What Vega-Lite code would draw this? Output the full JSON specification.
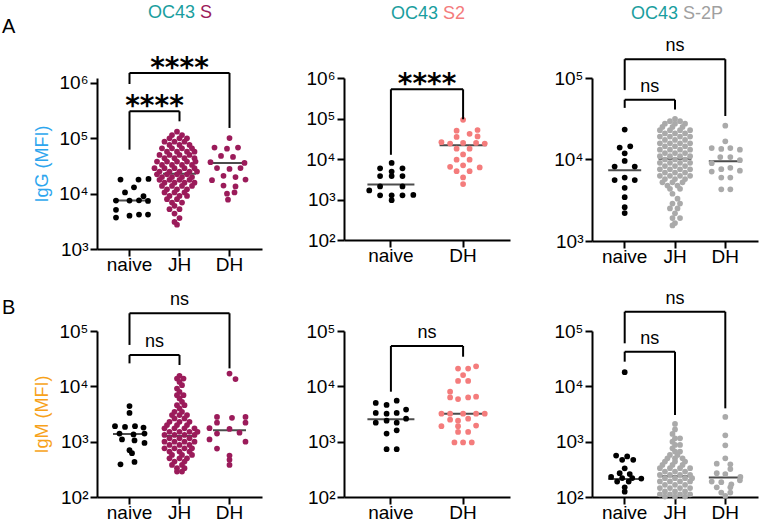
{
"$schema":"https://vega.github.io/schema/vega-lite/v6.json",
"autosize":"none",
"padding":{"left":97,"top":78,"right":662,"bottom":444},
"config":{"view":{"stroke":null},"font":"Liberation Sans",
"circle":{"size":33,"opacity":1},
"axis":{"domainColor":"#000","domainWidth":2,"tickColor":"#000","tickWidth":2,"tickSize":7,"labelColor":"#000","labelFont":"Liberation Sans","labelFontSize":19,"grid":false,"titleFont":"Liberation Sans","titleFontSize":18,"titleFontWeight":"normal"},
"axisX":{"labelBaseline":"alphabetic","labelPadding":14,"labelAngle":0},
"axisY":{"labelPadding":2,"titlePadding":7}},
"resolve":{"scale":{"color":"independent","xOffset":"independent"}},
"datasets":{
"pts":[
{"p":1,"g":"naive","v":18000,"o":-0.18},{"p":1,"g":"naive","v":18000,"o":0.18},{"p":1,"g":"naive","v":18500,"o":0.38},{"p":1,"g":"naive","v":13000,"o":0.09},{"p":1,"g":"naive","v":10500,"o":-0.09},{"p":1,"g":"naive","v":9000,"o":0.28},{"p":1,"g":"naive","v":7500,"o":-0.27},{"p":1,"g":"naive","v":7500,"o":0.0},{"p":1,"g":"naive","v":7600,"o":0.19},{"p":1,"g":"naive","v":7400,"o":0.37},{"p":1,"g":"naive","v":5100,"o":-0.27},{"p":1,"g":"naive","v":4200,"o":0.19},{"p":1,"g":"naive","v":4200,"o":0.37},{"p":1,"g":"naive","v":3700,"o":-0.27},{"p":1,"g":"naive","v":4000,"o":0.0},
{"p":1,"g":"JH","v":131800,"o":-0.05},
{"p":1,"g":"JH","v":114800,"o":-0.15},{"p":1,"g":"JH","v":114800,"o":0.05},
{"p":1,"g":"JH","v":100000,"o":-0.2},{"p":1,"g":"JH","v":100000,"o":0.0},{"p":1,"g":"JH","v":100000,"o":0.15},
{"p":1,"g":"JH","v":87100,"o":-0.3},{"p":1,"g":"JH","v":87100,"o":-0.1},{"p":1,"g":"JH","v":87100,"o":0.1},
{"p":1,"g":"JH","v":75900,"o":-0.2},{"p":1,"g":"JH","v":75900,"o":0.0},{"p":1,"g":"JH","v":75900,"o":0.2},
{"p":1,"g":"JH","v":66100,"o":-0.35},{"p":1,"g":"JH","v":66100,"o":-0.15},{"p":1,"g":"JH","v":66100,"o":0.05},{"p":1,"g":"JH","v":66100,"o":0.25},
{"p":1,"g":"JH","v":57500,"o":-0.25},{"p":1,"g":"JH","v":57500,"o":-0.05},{"p":1,"g":"JH","v":57500,"o":0.15},{"p":1,"g":"JH","v":57500,"o":0.3},
{"p":1,"g":"JH","v":50100,"o":-0.4},{"p":1,"g":"JH","v":50100,"o":-0.2},{"p":1,"g":"JH","v":50100,"o":0.0},{"p":1,"g":"JH","v":50100,"o":0.2},
{"p":1,"g":"JH","v":43700,"o":-0.3},{"p":1,"g":"JH","v":43700,"o":-0.1},{"p":1,"g":"JH","v":43700,"o":0.1},{"p":1,"g":"JH","v":43700,"o":0.3},
{"p":1,"g":"JH","v":38000,"o":-0.45},{"p":1,"g":"JH","v":38000,"o":-0.25},{"p":1,"g":"JH","v":38000,"o":-0.05},{"p":1,"g":"JH","v":38000,"o":0.15},{"p":1,"g":"JH","v":38000,"o":0.32},
{"p":1,"g":"JH","v":33100,"o":-0.35},{"p":1,"g":"JH","v":33100,"o":-0.15},{"p":1,"g":"JH","v":33100,"o":0.05},{"p":1,"g":"JH","v":33100,"o":0.25},
{"p":1,"g":"JH","v":28800,"o":-0.5},{"p":1,"g":"JH","v":28800,"o":-0.3},{"p":1,"g":"JH","v":28800,"o":-0.1},{"p":1,"g":"JH","v":28800,"o":0.1},{"p":1,"g":"JH","v":28800,"o":0.3},
{"p":1,"g":"JH","v":25100,"o":-0.4},{"p":1,"g":"JH","v":25100,"o":-0.2},{"p":1,"g":"JH","v":25100,"o":0.0},{"p":1,"g":"JH","v":25100,"o":0.2},{"p":1,"g":"JH","v":25100,"o":0.35},
{"p":1,"g":"JH","v":22400,"o":-0.45},{"p":1,"g":"JH","v":22400,"o":-0.25},{"p":1,"g":"JH","v":22400,"o":-0.05},{"p":1,"g":"JH","v":22400,"o":0.15},
{"p":1,"g":"JH","v":20000,"o":-0.35},{"p":1,"g":"JH","v":20000,"o":-0.15},{"p":1,"g":"JH","v":20000,"o":0.05},{"p":1,"g":"JH","v":20000,"o":0.25},
{"p":1,"g":"JH","v":17800,"o":-0.4},{"p":1,"g":"JH","v":17800,"o":-0.2},{"p":1,"g":"JH","v":17800,"o":0.0},{"p":1,"g":"JH","v":17800,"o":0.2},
{"p":1,"g":"JH","v":15800,"o":-0.3},{"p":1,"g":"JH","v":15800,"o":-0.1},{"p":1,"g":"JH","v":15800,"o":0.1},{"p":1,"g":"JH","v":15800,"o":0.3},
{"p":1,"g":"JH","v":13800,"o":-0.35},{"p":1,"g":"JH","v":13800,"o":-0.15},{"p":1,"g":"JH","v":13800,"o":0.05},{"p":1,"g":"JH","v":13800,"o":0.25},
{"p":1,"g":"JH","v":12000,"o":-0.25},{"p":1,"g":"JH","v":12000,"o":-0.05},{"p":1,"g":"JH","v":12000,"o":0.15},
{"p":1,"g":"JH","v":10500,"o":-0.3},{"p":1,"g":"JH","v":10500,"o":-0.1},{"p":1,"g":"JH","v":10500,"o":0.1},
{"p":1,"g":"JH","v":9120,"o":-0.2},{"p":1,"g":"JH","v":9120,"o":0.0},{"p":1,"g":"JH","v":9120,"o":0.15},
{"p":1,"g":"JH","v":7940,"o":-0.25},{"p":1,"g":"JH","v":7940,"o":-0.05},
{"p":1,"g":"JH","v":6920,"o":-0.15},{"p":1,"g":"JH","v":6920,"o":0.05},
{"p":1,"g":"JH","v":6030,"o":-0.1},
{"p":1,"g":"JH","v":5250,"o":-0.2},{"p":1,"g":"JH","v":5250,"o":0.0},
{"p":1,"g":"JH","v":4370,"o":-0.1},
{"p":1,"g":"JH","v":3630,"o":0.0},
{"p":1,"g":"JH","v":3090,"o":-0.1},
{"p":1,"g":"JH","v":2750,"o":-0.05},
{"p":1,"g":"DH","v":101000,"o":0},{"p":1,"g":"DH","v":68000,"o":-0.3},{"p":1,"g":"DH","v":65000,"o":-0.05},{"p":1,"g":"DH","v":68000,"o":0.17},{"p":1,"g":"DH","v":48000,"o":-0.17},{"p":1,"g":"DH","v":46000,"o":0.07},{"p":1,"g":"DH","v":37000,"o":-0.38},{"p":1,"g":"DH","v":36000,"o":0.3},{"p":1,"g":"DH","v":29000,"o":-0.25},{"p":1,"g":"DH","v":28000,"o":0.0},{"p":1,"g":"DH","v":29000,"o":0.22},{"p":1,"g":"DH","v":21000,"o":-0.12},{"p":1,"g":"DH","v":20000,"o":0.12},{"p":1,"g":"DH","v":17500,"o":-0.35},{"p":1,"g":"DH","v":18000,"o":0.32},{"p":1,"g":"DH","v":14000,"o":-0.12},{"p":1,"g":"DH","v":13500,"o":0.12},{"p":1,"g":"DH","v":10000,"o":-0.05},{"p":1,"g":"DH","v":10500,"o":0.1},{"p":1,"g":"DH","v":7800,"o":-0.03},
{"p":2,"g":"naive","v":8000,"o":0.01},{"p":2,"g":"naive","v":5900,"o":-0.15},{"p":2,"g":"naive","v":5900,"o":0.16},{"p":2,"g":"naive","v":4900,"o":0.01},{"p":2,"g":"naive","v":3800,"o":-0.15},{"p":2,"g":"naive","v":3800,"o":0.01},{"p":2,"g":"naive","v":3800,"o":0.16},{"p":2,"g":"naive","v":2100,"o":-0.15},{"p":2,"g":"naive","v":2100,"o":0.16},{"p":2,"g":"naive","v":1670,"o":-0.3},{"p":2,"g":"naive","v":1300,"o":0.31},{"p":2,"g":"naive","v":1270,"o":-0.15},{"p":2,"g":"naive","v":1270,"o":0.01},{"p":2,"g":"naive","v":1270,"o":0.16},{"p":2,"g":"naive","v":960,"o":0.01},
{"p":2,"g":"DH","v":93000,"o":0},{"p":2,"g":"DH","v":50000,"o":-0.09},{"p":2,"g":"DH","v":52000,"o":0.2},{"p":2,"g":"DH","v":42000,"o":0.09},{"p":2,"g":"DH","v":35000,"o":-0.09},{"p":2,"g":"DH","v":36000,"o":0.2},{"p":2,"g":"DH","v":26000,"o":-0.3},{"p":2,"g":"DH","v":24000,"o":-0.18},{"p":2,"g":"DH","v":25000,"o":0.0},{"p":2,"g":"DH","v":25000,"o":0.18},{"p":2,"g":"DH","v":24000,"o":0.3},{"p":2,"g":"DH","v":18000,"o":-0.09},{"p":2,"g":"DH","v":18000,"o":0.09},{"p":2,"g":"DH","v":13000,"o":0},{"p":2,"g":"DH","v":9600,"o":-0.09},{"p":2,"g":"DH","v":9600,"o":0.09},{"p":2,"g":"DH","v":7000,"o":0.0},{"p":2,"g":"DH","v":6400,"o":-0.18},{"p":2,"g":"DH","v":6200,"o":0.23},{"p":2,"g":"DH","v":5000,"o":-0.09},{"p":2,"g":"DH","v":5000,"o":0.09},{"p":2,"g":"DH","v":3500,"o":0.0},{"p":2,"g":"DH","v":2400,"o":0},
{"p":3,"g":"naive","v":23300,"o":0},{"p":3,"g":"naive","v":14000,"o":-0.1},{"p":3,"g":"naive","v":14500,"o":0.11},{"p":3,"g":"naive","v":11900,"o":0.0},{"p":3,"g":"naive","v":9600,"o":0.0},{"p":3,"g":"naive","v":8200,"o":-0.2},{"p":3,"g":"naive","v":8200,"o":0.2},{"p":3,"g":"naive","v":5600,"o":-0.2},{"p":3,"g":"naive","v":6000,"o":0.0},{"p":3,"g":"naive","v":5600,"o":0.2},{"p":3,"g":"naive","v":4500,"o":0.0},{"p":3,"g":"naive","v":3450,"o":0.0},{"p":3,"g":"naive","v":2600,"o":0.0},{"p":3,"g":"naive","v":2200,"o":0.0},
{"p":3,"g":"JH","v":31600,"o":0.0},
{"p":3,"g":"JH","v":29500,"o":-0.1},{"p":3,"g":"JH","v":29500,"o":0.1},
{"p":3,"g":"JH","v":27500,"o":-0.2},{"p":3,"g":"JH","v":27500,"o":0.0},{"p":3,"g":"JH","v":27500,"o":0.2},
{"p":3,"g":"JH","v":25100,"o":-0.25},{"p":3,"g":"JH","v":25100,"o":-0.05},{"p":3,"g":"JH","v":25100,"o":0.15},
{"p":3,"g":"JH","v":22900,"o":-0.3},{"p":3,"g":"JH","v":22900,"o":-0.1},{"p":3,"g":"JH","v":22900,"o":0.1},{"p":3,"g":"JH","v":22900,"o":0.3},
{"p":3,"g":"JH","v":20900,"o":-0.2},{"p":3,"g":"JH","v":20900,"o":0.0},{"p":3,"g":"JH","v":20900,"o":0.2},
{"p":3,"g":"JH","v":19100,"o":-0.3},{"p":3,"g":"JH","v":19100,"o":-0.1},{"p":3,"g":"JH","v":19100,"o":0.1},{"p":3,"g":"JH","v":19100,"o":0.3},
{"p":3,"g":"JH","v":17400,"o":-0.2},{"p":3,"g":"JH","v":17400,"o":0.0},{"p":3,"g":"JH","v":17400,"o":0.2},
{"p":3,"g":"JH","v":15800,"o":-0.3},{"p":3,"g":"JH","v":15800,"o":-0.1},{"p":3,"g":"JH","v":15800,"o":0.1},{"p":3,"g":"JH","v":15800,"o":0.3},
{"p":3,"g":"JH","v":14500,"o":-0.2},{"p":3,"g":"JH","v":14500,"o":0.0},{"p":3,"g":"JH","v":14500,"o":0.2},
{"p":3,"g":"JH","v":13200,"o":-0.3},{"p":3,"g":"JH","v":13200,"o":-0.1},{"p":3,"g":"JH","v":13200,"o":0.1},{"p":3,"g":"JH","v":13200,"o":0.3},
{"p":3,"g":"JH","v":12000,"o":-0.2},{"p":3,"g":"JH","v":12000,"o":0.0},{"p":3,"g":"JH","v":12000,"o":0.2},
{"p":3,"g":"JH","v":11000,"o":-0.3},{"p":3,"g":"JH","v":11000,"o":-0.1},{"p":3,"g":"JH","v":11000,"o":0.1},{"p":3,"g":"JH","v":11000,"o":0.3},
{"p":3,"g":"JH","v":10000,"o":-0.2},{"p":3,"g":"JH","v":10000,"o":0.0},{"p":3,"g":"JH","v":10000,"o":0.2},
{"p":3,"g":"JH","v":9120,"o":-0.3},{"p":3,"g":"JH","v":9120,"o":-0.1},{"p":3,"g":"JH","v":9120,"o":0.1},{"p":3,"g":"JH","v":9120,"o":0.3},
{"p":3,"g":"JH","v":8320,"o":-0.2},{"p":3,"g":"JH","v":8320,"o":0.0},{"p":3,"g":"JH","v":8320,"o":0.2},
{"p":3,"g":"JH","v":7590,"o":-0.3},{"p":3,"g":"JH","v":7590,"o":-0.1},{"p":3,"g":"JH","v":7590,"o":0.1},{"p":3,"g":"JH","v":7590,"o":0.3},
{"p":3,"g":"JH","v":6920,"o":-0.2},{"p":3,"g":"JH","v":6920,"o":0.0},{"p":3,"g":"JH","v":6920,"o":0.2},
{"p":3,"g":"JH","v":6310,"o":-0.3},{"p":3,"g":"JH","v":6310,"o":-0.1},{"p":3,"g":"JH","v":6310,"o":0.1},{"p":3,"g":"JH","v":6310,"o":0.3},
{"p":3,"g":"JH","v":5750,"o":-0.2},{"p":3,"g":"JH","v":5750,"o":0.0},{"p":3,"g":"JH","v":5750,"o":0.2},
{"p":3,"g":"JH","v":5250,"o":-0.25},{"p":3,"g":"JH","v":5250,"o":-0.05},{"p":3,"g":"JH","v":5250,"o":0.15},
{"p":3,"g":"JH","v":4790,"o":-0.15},{"p":3,"g":"JH","v":4790,"o":0.05},
{"p":3,"g":"JH","v":4370,"o":-0.1},{"p":3,"g":"JH","v":4370,"o":0.1},
{"p":3,"g":"JH","v":3800,"o":-0.05},
{"p":3,"g":"JH","v":3310,"o":0.05},
{"p":3,"g":"JH","v":2880,"o":-0.05},{"p":3,"g":"JH","v":2880,"o":0.1},
{"p":3,"g":"JH","v":2510,"o":-0.1},{"p":3,"g":"JH","v":2510,"o":0.05},
{"p":3,"g":"JH","v":2190,"o":0.0},
{"p":3,"g":"JH","v":1910,"o":-0.05},{"p":3,"g":"JH","v":1910,"o":0.1},
{"p":3,"g":"JH","v":1660,"o":0.0},
{"p":3,"g":"JH","v":1550,"o":-0.05},
{"p":3,"g":"DH","v":26000,"o":0},{"p":3,"g":"DH","v":16700,"o":0},{"p":3,"g":"DH","v":13800,"o":-0.27},{"p":3,"g":"DH","v":13500,"o":-0.08},{"p":3,"g":"DH","v":13800,"o":0.1},{"p":3,"g":"DH","v":13200,"o":0.29},{"p":3,"g":"DH","v":10700,"o":-0.1},{"p":3,"g":"DH","v":10700,"o":0.1},{"p":3,"g":"DH","v":9800,"o":0.29},{"p":3,"g":"DH","v":9000,"o":-0.27},{"p":3,"g":"DH","v":7100,"o":-0.27},{"p":3,"g":"DH","v":7600,"o":-0.08},{"p":3,"g":"DH","v":7900,"o":0.1},{"p":3,"g":"DH","v":7300,"o":0.29},{"p":3,"g":"DH","v":6000,"o":-0.08},{"p":3,"g":"DH","v":6000,"o":0.1},{"p":3,"g":"DH","v":4300,"o":-0.08},{"p":3,"g":"DH","v":4300,"o":0.1},
{"p":4,"g":"naive","v":4400,"o":0},{"p":4,"g":"naive","v":3300,"o":0},{"p":4,"g":"naive","v":1900,"o":-0.29},{"p":4,"g":"naive","v":1850,"o":-0.09},{"p":4,"g":"naive","v":1900,"o":0.11},{"p":4,"g":"naive","v":1800,"o":0.28},{"p":4,"g":"naive","v":1400,"o":-0.2},{"p":4,"g":"naive","v":1350,"o":0.08},{"p":4,"g":"naive","v":1400,"o":0.3},{"p":4,"g":"naive","v":1100,"o":-0.15},{"p":4,"g":"naive","v":1050,"o":0.1},{"p":4,"g":"naive","v":950,"o":0.3},{"p":4,"g":"naive","v":700,"o":0.0},{"p":4,"g":"naive","v":620,"o":0.05},{"p":4,"g":"naive","v":430,"o":0.1},{"p":4,"g":"naive","v":390,"o":-0.18},
{"p":4,"g":"JH","v":15500,"o":0.0},
{"p":4,"g":"JH","v":13800,"o":-0.05},{"p":4,"g":"JH","v":13800,"o":0.08},
{"p":4,"g":"JH","v":12000,"o":0.0},
{"p":4,"g":"JH","v":10500,"o":0.05},
{"p":4,"g":"JH","v":9120,"o":-0.05},
{"p":4,"g":"JH","v":7940,"o":0.0},
{"p":4,"g":"JH","v":6920,"o":-0.05},{"p":4,"g":"JH","v":6920,"o":0.08},
{"p":4,"g":"JH","v":6030,"o":0.0},
{"p":4,"g":"JH","v":5250,"o":0.05},
{"p":4,"g":"JH","v":4570,"o":-0.05},{"p":4,"g":"JH","v":4570,"o":0.1},
{"p":4,"g":"JH","v":3980,"o":0.0},
{"p":4,"g":"JH","v":3470,"o":-0.1},{"p":4,"g":"JH","v":3470,"o":0.05},
{"p":4,"g":"JH","v":3020,"o":-0.15},{"p":4,"g":"JH","v":3020,"o":0.0},{"p":4,"g":"JH","v":3020,"o":0.15},
{"p":4,"g":"JH","v":2630,"o":-0.1},{"p":4,"g":"JH","v":2630,"o":0.1},
{"p":4,"g":"JH","v":2290,"o":-0.2},{"p":4,"g":"JH","v":2290,"o":0.0},{"p":4,"g":"JH","v":2290,"o":0.2},
{"p":4,"g":"JH","v":2000,"o":-0.25},{"p":4,"g":"JH","v":2000,"o":-0.05},{"p":4,"g":"JH","v":2000,"o":0.15},
{"p":4,"g":"JH","v":1740,"o":-0.3},{"p":4,"g":"JH","v":1740,"o":-0.1},{"p":4,"g":"JH","v":1740,"o":0.1},{"p":4,"g":"JH","v":1740,"o":0.3},
{"p":4,"g":"JH","v":1510,"o":-0.2},{"p":4,"g":"JH","v":1510,"o":0.0},{"p":4,"g":"JH","v":1510,"o":0.2},{"p":4,"g":"JH","v":1510,"o":0.36},
{"p":4,"g":"JH","v":1320,"o":-0.3},{"p":4,"g":"JH","v":1320,"o":-0.1},{"p":4,"g":"JH","v":1320,"o":0.1},{"p":4,"g":"JH","v":1320,"o":0.3},
{"p":4,"g":"JH","v":1150,"o":-0.2},{"p":4,"g":"JH","v":1150,"o":0.0},{"p":4,"g":"JH","v":1150,"o":0.2},
{"p":4,"g":"JH","v":1000,"o":-0.3},{"p":4,"g":"JH","v":1000,"o":-0.1},{"p":4,"g":"JH","v":1000,"o":0.1},{"p":4,"g":"JH","v":1000,"o":0.3},
{"p":4,"g":"JH","v":871,"o":-0.2},{"p":4,"g":"JH","v":871,"o":0.0},{"p":4,"g":"JH","v":871,"o":0.2},
{"p":4,"g":"JH","v":759,"o":-0.3},{"p":4,"g":"JH","v":759,"o":-0.1},{"p":4,"g":"JH","v":759,"o":0.1},{"p":4,"g":"JH","v":759,"o":0.25},
{"p":4,"g":"JH","v":661,"o":-0.2},{"p":4,"g":"JH","v":661,"o":0.0},{"p":4,"g":"JH","v":661,"o":0.2},
{"p":4,"g":"JH","v":575,"o":-0.15},{"p":4,"g":"JH","v":575,"o":0.05},{"p":4,"g":"JH","v":575,"o":0.25},
{"p":4,"g":"JH","v":501,"o":-0.2},{"p":4,"g":"JH","v":501,"o":0.0},{"p":4,"g":"JH","v":501,"o":0.15},
{"p":4,"g":"JH","v":437,"o":-0.1},{"p":4,"g":"JH","v":437,"o":0.1},
{"p":4,"g":"JH","v":380,"o":-0.15},{"p":4,"g":"JH","v":380,"o":0.05},
{"p":4,"g":"JH","v":331,"o":-0.05},{"p":4,"g":"JH","v":331,"o":0.1},
{"p":4,"g":"JH","v":288,"o":-0.05},{"p":4,"g":"JH","v":288,"o":0.05},
{"p":4,"g":"DH","v":17000,"o":0},{"p":4,"g":"DH","v":13500,"o":0.12},{"p":4,"g":"DH","v":2800,"o":-0.25},{"p":4,"g":"DH","v":2700,"o":0.05},{"p":4,"g":"DH","v":2800,"o":0.32},{"p":4,"g":"DH","v":2200,"o":-0.25},{"p":4,"g":"DH","v":2200,"o":0.32},{"p":4,"g":"DH","v":1750,"o":-0.4},{"p":4,"g":"DH","v":1700,"o":0.0},{"p":4,"g":"DH","v":1400,"o":-0.25},{"p":4,"g":"DH","v":1450,"o":0.2},{"p":4,"g":"DH","v":1100,"o":-0.4},{"p":4,"g":"DH","v":1000,"o":0.32},{"p":4,"g":"DH","v":750,"o":-0.25},{"p":4,"g":"DH","v":560,"o":0.0},{"p":4,"g":"DH","v":470,"o":0.0},{"p":4,"g":"DH","v":380,"o":0.0},
{"p":5,"g":"naive","v":5000,"o":-0.21},{"p":5,"g":"naive","v":4600,"o":-0.06},{"p":5,"g":"naive","v":5500,"o":0.08},{"p":5,"g":"naive","v":3300,"o":-0.21},{"p":5,"g":"naive","v":3200,"o":-0.06},{"p":5,"g":"naive","v":3300,"o":0.08},{"p":5,"g":"naive","v":3800,"o":0.21},{"p":5,"g":"naive","v":2200,"o":-0.21},{"p":5,"g":"naive","v":2400,"o":-0.06},{"p":5,"g":"naive","v":2200,"o":0.08},{"p":5,"g":"naive","v":2600,"o":0.21},{"p":5,"g":"naive","v":1400,"o":-0.06},{"p":5,"g":"naive","v":1600,"o":0.08},{"p":5,"g":"naive","v":730,"o":-0.06},{"p":5,"g":"naive","v":730,"o":0.08},
{"p":5,"g":"DH","v":21000,"o":-0.07},{"p":5,"g":"DH","v":21000,"o":0.07},{"p":5,"g":"DH","v":23000,"o":0.18},{"p":5,"g":"DH","v":16000,"o":0.0},{"p":5,"g":"DH","v":12500,"o":-0.07},{"p":5,"g":"DH","v":12500,"o":0.07},{"p":5,"g":"DH","v":8000,"o":-0.18},{"p":5,"g":"DH","v":6300,"o":-0.18},{"p":5,"g":"DH","v":5900,"o":-0.07},{"p":5,"g":"DH","v":6300,"o":0.07},{"p":5,"g":"DH","v":6500,"o":0.18},{"p":5,"g":"DH","v":3200,"o":-0.3},{"p":5,"g":"DH","v":3200,"o":-0.18},{"p":5,"g":"DH","v":3200,"o":0.0},{"p":5,"g":"DH","v":3200,"o":0.18},{"p":5,"g":"DH","v":3200,"o":0.3},{"p":5,"g":"DH","v":2500,"o":-0.18},{"p":5,"g":"DH","v":2400,"o":-0.07},{"p":5,"g":"DH","v":2600,"o":0.07},{"p":5,"g":"DH","v":1900,"o":-0.3},{"p":5,"g":"DH","v":1900,"o":-0.07},{"p":5,"g":"DH","v":1950,"o":0.18},{"p":5,"g":"DH","v":1500,"o":-0.07},{"p":5,"g":"DH","v":1500,"o":0.07},{"p":5,"g":"DH","v":970,"o":-0.12},{"p":5,"g":"DH","v":970,"o":0.0},{"p":5,"g":"DH","v":970,"o":0.12},
{"p":6,"g":"naive","v":18000,"o":0},{"p":6,"g":"naive","v":560,"o":-0.17},{"p":6,"g":"naive","v":540,"o":0.05},{"p":6,"g":"naive","v":470,"o":-0.05},{"p":6,"g":"naive","v":470,"o":0.17},{"p":6,"g":"naive","v":330,"o":0},{"p":6,"g":"naive","v":270,"o":-0.1},{"p":6,"g":"naive","v":260,"o":0.1},{"p":6,"g":"naive","v":230,"o":-0.27},{"p":6,"g":"naive","v":220,"o":-0.05},{"p":6,"g":"naive","v":220,"o":0.15},{"p":6,"g":"naive","v":215,"o":0.33},{"p":6,"g":"naive","v":190,"o":-0.15},{"p":6,"g":"naive","v":190,"o":0.08},{"p":6,"g":"naive","v":150,"o":0},{"p":6,"g":"naive","v":125,"o":0},
{"p":6,"g":"JH","v":2090,"o":0.0},
{"p":6,"g":"JH","v":1660,"o":0.0},
{"p":6,"g":"JH","v":1380,"o":-0.05},
{"p":6,"g":"JH","v":1150,"o":0.0},{"p":6,"g":"JH","v":1150,"o":0.1},
{"p":6,"g":"JH","v":1000,"o":-0.05},
{"p":6,"g":"JH","v":871,"o":0.0},{"p":6,"g":"JH","v":871,"o":0.1},
{"p":6,"g":"JH","v":759,"o":-0.05},
{"p":6,"g":"JH","v":661,"o":0.0},{"p":6,"g":"JH","v":661,"o":0.1},
{"p":6,"g":"JH","v":575,"o":-0.1},{"p":6,"g":"JH","v":575,"o":0.05},
{"p":6,"g":"JH","v":501,"o":-0.15},{"p":6,"g":"JH","v":501,"o":0.0},{"p":6,"g":"JH","v":501,"o":0.15},
{"p":6,"g":"JH","v":437,"o":-0.2},{"p":6,"g":"JH","v":437,"o":0.0},{"p":6,"g":"JH","v":437,"o":0.2},
{"p":6,"g":"JH","v":380,"o":-0.25},{"p":6,"g":"JH","v":380,"o":-0.05},{"p":6,"g":"JH","v":380,"o":0.15},
{"p":6,"g":"JH","v":331,"o":-0.3},{"p":6,"g":"JH","v":331,"o":-0.1},{"p":6,"g":"JH","v":331,"o":0.1},{"p":6,"g":"JH","v":331,"o":0.3},
{"p":6,"g":"JH","v":288,"o":-0.2},{"p":6,"g":"JH","v":288,"o":0.0},{"p":6,"g":"JH","v":288,"o":0.2},
{"p":6,"g":"JH","v":251,"o":-0.3},{"p":6,"g":"JH","v":251,"o":-0.1},{"p":6,"g":"JH","v":251,"o":0.1},{"p":6,"g":"JH","v":251,"o":0.3},
{"p":6,"g":"JH","v":219,"o":-0.2},{"p":6,"g":"JH","v":219,"o":0.0},{"p":6,"g":"JH","v":219,"o":0.2},{"p":6,"g":"JH","v":219,"o":0.34},
{"p":6,"g":"JH","v":191,"o":-0.3},{"p":6,"g":"JH","v":191,"o":-0.1},{"p":6,"g":"JH","v":191,"o":0.1},{"p":6,"g":"JH","v":191,"o":0.3},
{"p":6,"g":"JH","v":166,"o":-0.2},{"p":6,"g":"JH","v":166,"o":0.0},{"p":6,"g":"JH","v":166,"o":0.2},
{"p":6,"g":"JH","v":145,"o":-0.3},{"p":6,"g":"JH","v":145,"o":-0.1},{"p":6,"g":"JH","v":145,"o":0.1},{"p":6,"g":"JH","v":145,"o":0.3},
{"p":6,"g":"JH","v":126,"o":-0.2},{"p":6,"g":"JH","v":126,"o":0.0},{"p":6,"g":"JH","v":126,"o":0.2},
{"p":6,"g":"JH","v":112,"o":-0.3},{"p":6,"g":"JH","v":112,"o":-0.1},{"p":6,"g":"JH","v":112,"o":0.1},{"p":6,"g":"JH","v":112,"o":0.3},
{"p":6,"g":"JH","v":102,"o":-0.2},{"p":6,"g":"JH","v":102,"o":0.0},{"p":6,"g":"JH","v":102,"o":0.2},
{"p":6,"g":"DH","v":2800,"o":0},{"p":6,"g":"DH","v":1300,"o":0},{"p":6,"g":"DH","v":860,"o":0},{"p":6,"g":"DH","v":500,"o":0},{"p":6,"g":"DH","v":400,"o":-0.17},{"p":6,"g":"DH","v":390,"o":0.1},{"p":6,"g":"DH","v":320,"o":0.1},{"p":6,"g":"DH","v":270,"o":-0.17},{"p":6,"g":"DH","v":260,"o":0.0},{"p":6,"g":"DH","v":230,"o":0.3},{"p":6,"g":"DH","v":190,"o":-0.27},{"p":6,"g":"DH","v":185,"o":-0.08},{"p":6,"g":"DH","v":200,"o":0.29},{"p":6,"g":"DH","v":170,"o":0.12},{"p":6,"g":"DH","v":150,"o":-0.17},{"p":6,"g":"DH","v":150,"o":0.1},{"p":6,"g":"DH","v":120,"o":-0.08},{"p":6,"g":"DH","v":120,"o":0.1},{"p":6,"g":"DH","v":105,"o":0}
],
"med":[
{"p":1,"g":"naive","v":7500},{"p":1,"g":"JH","v":23000},{"p":1,"g":"DH","v":36000},
{"p":2,"g":"naive","v":2330},{"p":2,"g":"DH","v":22000},
{"p":3,"g":"naive","v":7400},{"p":3,"g":"JH","v":10200},{"p":3,"g":"DH","v":9500},
{"p":4,"g":"naive","v":1380},{"p":4,"g":"JH","v":1260},{"p":4,"g":"DH","v":1600},
{"p":5,"g":"naive","v":2550},{"p":5,"g":"DH","v":3200},
{"p":6,"g":"naive","v":211},{"p":6,"g":"JH","v":236},{"p":6,"g":"DH","v":224}
],
"leg":[
{"p":1,"g":"naive","v":62400,"v2":308000},{"p":1,"g":"JH","v":203000,"v2":308000},{"p":1,"g":"naive","v":960000,"v2":1520000},{"p":1,"g":"DH","v":154000,"v2":1520000},
{"p":2,"g":"naive","v":12700,"v2":525000},{"p":2,"g":"DH","v":96000,"v2":525000},
{"p":3,"g":"naive","v":43000,"v2":54100},{"p":3,"g":"JH","v":41000,"v2":54100},{"p":3,"g":"naive","v":71000,"v2":170000},{"p":3,"g":"DH","v":34200,"v2":170000},
{"p":4,"g":"naive","v":26000,"v2":36800},{"p":4,"g":"JH","v":24300,"v2":36800},{"p":4,"g":"naive","v":56000,"v2":209000},{"p":4,"g":"DH","v":21100,"v2":209000},
{"p":5,"g":"naive","v":8000,"v2":53600},{"p":5,"g":"DH","v":34300,"v2":53600},
{"p":6,"g":"naive","v":27900,"v2":42300},{"p":6,"g":"JH","v":3030,"v2":42300},{"p":6,"g":"naive","v":59900,"v2":223000},{"p":6,"g":"DH","v":4000,"v2":223000}
],
"bar":[
{"p":1,"g":"naive","g2":"JH","v":308000},{"p":1,"g":"naive","g2":"DH","v":1520000},
{"p":2,"g":"naive","g2":"DH","v":525000},
{"p":3,"g":"naive","g2":"JH","v":54100},{"p":3,"g":"naive","g2":"DH","v":170000},
{"p":4,"g":"naive","g2":"JH","v":36800},{"p":4,"g":"naive","g2":"DH","v":209000},
{"p":5,"g":"naive","g2":"DH","v":53600},
{"p":6,"g":"naive","g2":"JH","v":42300},{"p":6,"g":"naive","g2":"DH","v":223000}
],
"lab":[
{"p":1,"g":"naive","o":0.5,"v":308000,"t":"****"},{"p":1,"g":"JH","o":0,"v":1520000,"t":"****"},
{"p":2,"g":"naive","o":0.5,"v":525000,"t":"****"},
{"p":3,"g":"naive","o":0.5,"v":54100,"t":"ns"},{"p":3,"g":"JH","o":0,"v":170000,"t":"ns"},
{"p":4,"g":"naive","o":0.5,"v":36800,"t":"ns"},{"p":4,"g":"JH","o":0,"v":209000,"t":"ns"},
{"p":5,"g":"naive","o":0.5,"v":53600,"t":"ns"},
{"p":6,"g":"naive","o":0.5,"v":42300,"t":"ns"},{"p":6,"g":"JH","o":0,"v":223000,"t":"ns"}
],
"ttl":[
{"p":1,"g":"naive","o":0.37,"v":14700000,"t":"OC43"},{"p":1,"g":"JH","o":0.41,"v":14700000,"t":"S"},
{"p":2,"g":"naive","o":0.0,"v":29400000,"t":"OC43"},{"p":2,"g":"DH","o":-0.28,"v":29400000,"t":"S2"},
{"p":3,"g":"naive","o":0.125,"v":537000,"t":"OC43"},{"p":3,"g":"JH","o":0.16,"v":537000,"t":"S-2P"}
]
},
"columns":3,
"spacing":82,
"bounds":"flush",
"concat":[
{"width":165,"height":171,
"title":{"text":"A","anchor":"start","frame":"group","orient":"top","dx":-95,"dy":65,"offset":16,"baseline":"alphabetic","fontSize":20,"fontWeight":"normal","font":"Liberation Sans","color":"#000"},
"encoding":{
"x":{"field":"g","type":"nominal","scale":{"type":"band","domain":["naive","JH","DH"],"paddingInner":0,"paddingOuter":0.15},"axis":{"title":null}},
"y":{"field":"v","type":"quantitative","scale":{"type":"log","domain":[1000,1231000],"nice":false},"axis":{"title":"IgG (MFI)","titleColor":"#2EA6EE","values":[1000,10000,100000,1000000],"labelExpr":"datum.value == 100 ? '10²' : datum.value == 1000 ? '10³' : datum.value == 10000 ? '10⁴' : datum.value == 100000 ? '10⁵' : '10⁶'"}}},
"layer":[
{"data":{"name":"med"},"transform":[{"filter":"datum.p == 1"}],"mark":{"type":"tick","size":33,"thickness":2,"color":"#000"}},
{"data":{"name":"pts"},"transform":[{"filter":"datum.p == 1"}],"mark":{"type":"circle"},"encoding":{"xOffset":{"field":"o","type":"quantitative","scale":{"domain":[-0.5,0.5],"range":[0,50],"nice":false,"zero":false}},"color":{"field":"g","type":"nominal","scale":{"domain":["naive","JH","DH"],"range":["#000000","#9B1B5A","#9B1B5A"]},"legend":null}}},
{"data":{"name":"leg"},"transform":[{"filter":"datum.p == 1"}],"mark":{"type":"rule","strokeWidth":2,"color":"#000"},"encoding":{"y2":{"field":"v2"}}},
{"data":{"name":"bar"},"transform":[{"filter":"datum.p == 1"}],"mark":{"type":"rule","strokeWidth":2,"color":"#000"},"encoding":{"x2":{"field":"g2"}}},
{"data":{"name":"lab"},"transform":[{"filter":"datum.p == 1"}],"mark":{"type":"text","font":"DejaVu Sans","fontWeight":"bold","fontSize":28,"baseline":"alphabetic","dy":4,"color":"#000"},"encoding":{"xOffset":{"field":"o","type":"quantitative","scale":{"domain":[-0.5,0.5],"range":[0,50],"nice":false,"zero":false}},"text":{"field":"t"}}},
{"data":{"name":"ttl"},"transform":[{"filter":"datum.p == 1"}],"mark":{"type":"text","font":"Liberation Sans","fontSize":18,"align":"left","baseline":"alphabetic"},"encoding":{"xOffset":{"field":"o","type":"quantitative","scale":{"domain":[-0.5,0.5],"range":[0,50],"nice":false,"zero":false}},"text":{"field":"t"},"color":{"field":"t","type":"nominal","scale":{"domain":["OC43","S"],"range":["#1A9E9E","#9B1B5A"]},"legend":null}}}
],
"resolve":{"scale":{"color":"independent"}}},
{"width":166,"height":162,
"encoding":{
"x":{"field":"g","type":"nominal","scale":{"type":"band","domain":["naive","DH"],"paddingInner":0,"paddingOuter":0.15},"axis":{"title":null}},
"y":{"field":"v","type":"quantitative","scale":{"type":"log","domain":[100,1000000],"nice":false},"axis":{"title":null,"values":[100,1000,10000,100000,1000000],"labelExpr":"datum.value == 100 ? '10²' : datum.value == 1000 ? '10³' : datum.value == 10000 ? '10⁴' : datum.value == 100000 ? '10⁵' : '10⁶'"}}},
"layer":[
{"data":{"name":"med"},"transform":[{"filter":"datum.p == 2"}],"mark":{"type":"tick","size":47,"thickness":2,"color":"#000"}},
{"data":{"name":"pts"},"transform":[{"filter":"datum.p == 2"}],"mark":{"type":"circle"},"encoding":{"xOffset":{"field":"o","type":"quantitative","scale":{"domain":[-0.5,0.5],"range":[0,72.2],"nice":false,"zero":false}},"color":{"field":"g","type":"nominal","scale":{"domain":["naive","DH"],"range":["#000000","#F47C7C"]},"legend":null}}},
{"data":{"name":"leg"},"transform":[{"filter":"datum.p == 2"}],"mark":{"type":"rule","strokeWidth":2,"color":"#000"},"encoding":{"y2":{"field":"v2"}}},
{"data":{"name":"bar"},"transform":[{"filter":"datum.p == 2"}],"mark":{"type":"rule","strokeWidth":2,"color":"#000"},"encoding":{"x2":{"field":"g2"}}},
{"data":{"name":"lab"},"transform":[{"filter":"datum.p == 2"}],"mark":{"type":"text","font":"DejaVu Sans","fontWeight":"bold","fontSize":28,"baseline":"alphabetic","dy":4,"color":"#000"},"encoding":{"xOffset":{"field":"o","type":"quantitative","scale":{"domain":[-0.5,0.5],"range":[0,72.2],"nice":false,"zero":false}},"text":{"field":"t"}}},
{"data":{"name":"ttl"},"transform":[{"filter":"datum.p == 2"}],"mark":{"type":"text","font":"Liberation Sans","fontSize":18,"align":"left","baseline":"alphabetic"},"encoding":{"xOffset":{"field":"o","type":"quantitative","scale":{"domain":[-0.5,0.5],"range":[0,72.2],"nice":false,"zero":false}},"text":{"field":"t"},"color":{"field":"t","type":"nominal","scale":{"domain":["OC43","S2"],"range":["#1A9E9E","#F47C7C"]},"legend":null}}}
],
"resolve":{"scale":{"color":"independent"}}},
{"width":166,"height":163,
"encoding":{
"x":{"field":"g","type":"nominal","scale":{"type":"band","domain":["naive","JH","DH"],"paddingInner":0,"paddingOuter":0.15},"axis":{"title":null}},
"y":{"field":"v","type":"quantitative","scale":{"type":"log","domain":[1000,100000],"nice":false},"axis":{"title":null,"values":[1000,10000,100000],"labelExpr":"datum.value == 100 ? '10²' : datum.value == 1000 ? '10³' : datum.value == 10000 ? '10⁴' : datum.value == 100000 ? '10⁵' : '10⁶'"}}},
"layer":[
{"data":{"name":"med"},"transform":[{"filter":"datum.p == 3"}],"mark":{"type":"tick","size":33,"thickness":2,"color":"#000"}},
{"data":{"name":"pts"},"transform":[{"filter":"datum.p == 3"}],"mark":{"type":"circle"},"encoding":{"xOffset":{"field":"o","type":"quantitative","scale":{"domain":[-0.5,0.5],"range":[0,50.3],"nice":false,"zero":false}},"color":{"field":"g","type":"nominal","scale":{"domain":["naive","JH","DH"],"range":["#000000","#AAAAAA","#AAAAAA"]},"legend":null}}},
{"data":{"name":"leg"},"transform":[{"filter":"datum.p == 3"}],"mark":{"type":"rule","strokeWidth":2,"color":"#000"},"encoding":{"y2":{"field":"v2"}}},
{"data":{"name":"bar"},"transform":[{"filter":"datum.p == 3"}],"mark":{"type":"rule","strokeWidth":2,"color":"#000"},"encoding":{"x2":{"field":"g2"}}},
{"data":{"name":"lab"},"transform":[{"filter":"datum.p == 3"}],"mark":{"type":"text","font":"Liberation Sans","fontSize":18,"baseline":"alphabetic","dy":-8,"color":"#000"},"encoding":{"xOffset":{"field":"o","type":"quantitative","scale":{"domain":[-0.5,0.5],"range":[0,50.3],"nice":false,"zero":false}},"text":{"field":"t"}}},
{"data":{"name":"ttl"},"transform":[{"filter":"datum.p == 3"}],"mark":{"type":"text","font":"Liberation Sans","fontSize":18,"align":"left","baseline":"alphabetic"},"encoding":{"xOffset":{"field":"o","type":"quantitative","scale":{"domain":[-0.5,0.5],"range":[0,50.3],"nice":false,"zero":false}},"text":{"field":"t"},"color":{"field":"t","type":"nominal","scale":{"domain":["OC43","S-2P"],"range":["#1A9E9E","#A0A0A0"]},"legend":null}}}
],
"resolve":{"scale":{"color":"independent"}}},
{"width":165,"height":166,
"title":{"text":"B","anchor":"start","frame":"group","orient":"top","dx":-95,"dy":62,"offset":19,"baseline":"alphabetic","fontSize":20,"fontWeight":"normal","font":"Liberation Sans","color":"#000"},
"encoding":{
"x":{"field":"g","type":"nominal","scale":{"type":"band","domain":["naive","JH","DH"],"paddingInner":0,"paddingOuter":0.15},"axis":{"title":null}},
"y":{"field":"v","type":"quantitative","scale":{"type":"log","domain":[100,100000],"nice":false},"axis":{"title":"IgM (MFI)","titleColor":"#F7A21B","values":[100,1000,10000,100000],"labelExpr":"datum.value == 100 ? '10²' : datum.value == 1000 ? '10³' : datum.value == 10000 ? '10⁴' : datum.value == 100000 ? '10⁵' : '10⁶'"}}},
"layer":[
{"data":{"name":"med"},"transform":[{"filter":"datum.p == 4"}],"mark":{"type":"tick","size":33,"thickness":2,"color":"#000"}},
{"data":{"name":"pts"},"transform":[{"filter":"datum.p == 4"}],"mark":{"type":"circle"},"encoding":{"xOffset":{"field":"o","type":"quantitative","scale":{"domain":[-0.5,0.5],"range":[0,50],"nice":false,"zero":false}},"color":{"field":"g","type":"nominal","scale":{"domain":["naive","JH","DH"],"range":["#000000","#9B1B5A","#9B1B5A"]},"legend":null}}},
{"data":{"name":"leg"},"transform":[{"filter":"datum.p == 4"}],"mark":{"type":"rule","strokeWidth":2,"color":"#000"},"encoding":{"y2":{"field":"v2"}}},
{"data":{"name":"bar"},"transform":[{"filter":"datum.p == 4"}],"mark":{"type":"rule","strokeWidth":2,"color":"#000"},"encoding":{"x2":{"field":"g2"}}},
{"data":{"name":"lab"},"transform":[{"filter":"datum.p == 4"}],"mark":{"type":"text","font":"Liberation Sans","fontSize":18,"baseline":"alphabetic","dy":-8,"color":"#000"},"encoding":{"xOffset":{"field":"o","type":"quantitative","scale":{"domain":[-0.5,0.5],"range":[0,50],"nice":false,"zero":false}},"text":{"field":"t"}}}
],
"resolve":{"scale":{"color":"independent"}}},
{"width":166,"height":166,
"encoding":{
"x":{"field":"g","type":"nominal","scale":{"type":"band","domain":["naive","DH"],"paddingInner":0,"paddingOuter":0.15},"axis":{"title":null}},
"y":{"field":"v","type":"quantitative","scale":{"type":"log","domain":[100,100000],"nice":false},"axis":{"title":null,"values":[100,1000,10000,100000],"labelExpr":"datum.value == 100 ? '10²' : datum.value == 1000 ? '10³' : datum.value == 10000 ? '10⁴' : datum.value == 100000 ? '10⁵' : '10⁶'"}}},
"layer":[
{"data":{"name":"med"},"transform":[{"filter":"datum.p == 5"}],"mark":{"type":"tick","size":47,"thickness":2,"color":"#000"}},
{"data":{"name":"pts"},"transform":[{"filter":"datum.p == 5"}],"mark":{"type":"circle"},"encoding":{"xOffset":{"field":"o","type":"quantitative","scale":{"domain":[-0.5,0.5],"range":[0,72.2],"nice":false,"zero":false}},"color":{"field":"g","type":"nominal","scale":{"domain":["naive","DH"],"range":["#000000","#F47C7C"]},"legend":null}}},
{"data":{"name":"leg"},"transform":[{"filter":"datum.p == 5"}],"mark":{"type":"rule","strokeWidth":2,"color":"#000"},"encoding":{"y2":{"field":"v2"}}},
{"data":{"name":"bar"},"transform":[{"filter":"datum.p == 5"}],"mark":{"type":"rule","strokeWidth":2,"color":"#000"},"encoding":{"x2":{"field":"g2"}}},
{"data":{"name":"lab"},"transform":[{"filter":"datum.p == 5"}],"mark":{"type":"text","font":"Liberation Sans","fontSize":18,"baseline":"alphabetic","dy":-8,"color":"#000"},"encoding":{"xOffset":{"field":"o","type":"quantitative","scale":{"domain":[-0.5,0.5],"range":[0,72.2],"nice":false,"zero":false}},"text":{"field":"t"}}}
],
"resolve":{"scale":{"color":"independent"}}},
{"width":166,"height":166,
"encoding":{
"x":{"field":"g","type":"nominal","scale":{"type":"band","domain":["naive","JH","DH"],"paddingInner":0,"paddingOuter":0.15},"axis":{"title":null}},
"y":{"field":"v","type":"quantitative","scale":{"type":"log","domain":[100,100000],"nice":false},"axis":{"title":null,"values":[100,1000,10000,100000],"labelExpr":"datum.value == 100 ? '10²' : datum.value == 1000 ? '10³' : datum.value == 10000 ? '10⁴' : datum.value == 100000 ? '10⁵' : '10⁶'"}}},
"layer":[
{"data":{"name":"med"},"transform":[{"filter":"datum.p == 6"}],"mark":{"type":"tick","size":33,"thickness":2,"color":"#000"}},
{"data":{"name":"pts"},"transform":[{"filter":"datum.p == 6"}],"mark":{"type":"circle"},"encoding":{"xOffset":{"field":"o","type":"quantitative","scale":{"domain":[-0.5,0.5],"range":[0,50.3],"nice":false,"zero":false}},"color":{"field":"g","type":"nominal","scale":{"domain":["naive","JH","DH"],"range":["#000000","#AAAAAA","#AAAAAA"]},"legend":null}}},
{"data":{"name":"leg"},"transform":[{"filter":"datum.p == 6"}],"mark":{"type":"rule","strokeWidth":2,"color":"#000"},"encoding":{"y2":{"field":"v2"}}},
{"data":{"name":"bar"},"transform":[{"filter":"datum.p == 6"}],"mark":{"type":"rule","strokeWidth":2,"color":"#000"},"encoding":{"x2":{"field":"g2"}}},
{"data":{"name":"lab"},"transform":[{"filter":"datum.p == 6"}],"mark":{"type":"text","font":"Liberation Sans","fontSize":18,"baseline":"alphabetic","dy":-8,"color":"#000"},"encoding":{"xOffset":{"field":"o","type":"quantitative","scale":{"domain":[-0.5,0.5],"range":[0,50.3],"nice":false,"zero":false}},"text":{"field":"t"}}}
],
"resolve":{"scale":{"color":"independent"}}}
]
}
